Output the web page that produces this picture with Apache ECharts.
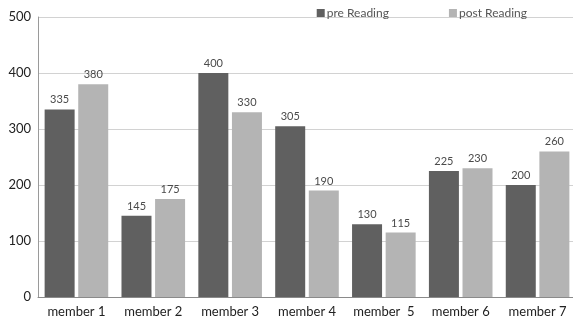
<!DOCTYPE html>
<html>
<head>
<meta charset="utf-8">
<style>
  html, body { margin: 0; padding: 0; background: #fff; }
  #chart { width: 573px; height: 324px; }
</style>
<script src="https://cdn.jsdelivr.net/npm/echarts@6/dist/echarts.min.js"></script>
</head>
<body>
<div id="chart"></div>
<script>
// Reading scores per member, before and after
const categories = ['member 1', 'member 2', 'member 3', 'member 4', 'member  5', 'member 6', 'member 7'];
const preReading = [335, 145, 400, 305, 130, 225, 200];
const postReading = [380, 175, 330, 190, 115, 230, 260];
const yTicks = [0, 100, 200, 300, 400, 500];

const chart = echarts.init(document.getElementById('chart'), null, { renderer: 'canvas' });
const font = 'Lato, "Open Sans", sans-serif';

const barLabel = {
  show: true,
  position: 'top',
  distance: 4,
  color: '#4a4a4a',
  fontFamily: font,
  fontSize: 11
};

chart.setOption({
  animation: false,
  backgroundColor: '#ffffff',
  textStyle: { fontFamily: font },
  legend: {
    top: 2,
    right: 41,
    itemWidth: 8,
    itemHeight: 8,
    itemGap: 60,
    icon: 'rect',
    textStyle: { color: '#555', fontSize: 12, fontFamily: font, padding: [0, 0, 0, -3] },
    data: ['pre Reading', 'post Reading']
  },
  // plot area runs slightly past the right edge of the canvas
  grid: { left: 38, top: 17, bottom: 27, width: 538, containLabel: false, outerBoundsMode: 'none' },
  xAxis: {
    type: 'category',
    data: categories,
    axisLine: { lineStyle: { color: '#8a8a8a', width: 1 } },
    axisTick: { show: false },
    axisLabel: { color: '#222', fontSize: 13, fontFamily: font, margin: 8, interval: 0 }
  },
  yAxis: {
    type: 'value',
    min: yTicks[0],
    max: yTicks[yTicks.length - 1],
    interval: yTicks[1] - yTicks[0],
    axisLine: { show: true, lineStyle: { color: '#9a9a9a', width: 1 } },
    axisTick: { show: false },
    axisLabel: { color: '#222', fontSize: 13, fontFamily: font, margin: 7 },
    splitLine: { lineStyle: { color: '#d2d2d2', width: 1 } }
  },
  series: [
    {
      name: 'pre Reading',
      type: 'bar',
      data: preReading,
      barWidth: 30,
      barGap: '12%',
      itemStyle: { color: '#606060' },
      label: barLabel
    },
    {
      name: 'post Reading',
      type: 'bar',
      data: postReading,
      barWidth: 30,
      itemStyle: { color: '#b4b4b4' },
      label: barLabel
    }
  ]
});
</script>
</body>
</html>
